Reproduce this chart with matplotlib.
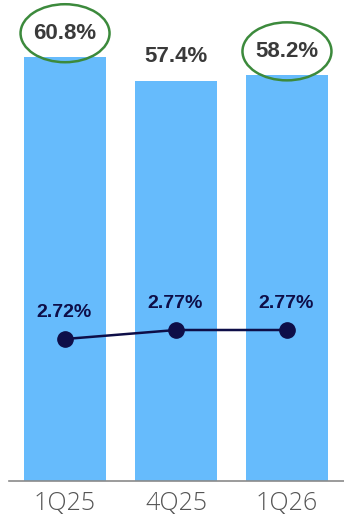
import matplotlib
matplotlib.use("Agg")
import matplotlib.pyplot as plt
from matplotlib.patches import Ellipse

# Quarterly data
quarters = ["1Q25", "4Q25", "1Q26"]
bar_values = [60.8, 57.4, 58.2]
line_values = [2.72, 2.77, 2.77]
bar_labels = ["60.8%", "57.4%", "58.2%"]
line_labels = ["2.72%", "2.77%", "2.77%"]
highlighted = [0, 2]

BAR_COLOR = "#66BBFC"
LINE_COLOR = "#0E0E48"
CIRCLE_COLOR = "#3C8A3C"
TEXT_COLOR = "#3A3A3A"

W, H = 344, 523
fig = plt.figure(figsize=(W / 100, H / 100), dpi=100)
base_px = 481  # baseline, pixels from top
ax = fig.add_axes([9 / W, (H - base_px) / H, (W - 9) / W, base_px / H])

x = list(range(len(quarters)))
ax.bar(x, bar_values, width=0.744, color=BAR_COLOR, zorder=1)
ax.set_xlim(-0.505, 2.514)
ax.set_ylim(0, base_px / 6.97)

for s in ["top", "right", "left"]:
    ax.spines[s].set_visible(False)
ax.spines["bottom"].set_color("#8A8A8A")
ax.spines["bottom"].set_linewidth(1.2)
ax.set_yticks([])
ax.set_xticks(x)
ax.set_xticklabels(quarters, fontsize=18, color="#555555",
                   family=["Open Sans", "DejaVu Sans"], fontweight="light")
ax.tick_params(axis="x", length=0, pad=7)

for i, (v, lab) in enumerate(zip(bar_values, bar_labels)):
    ax.annotate(lab, (i, v), xytext=(0, 24), textcoords="offset pixels",
                ha="center", va="center", fontsize=16, fontweight="bold",
                color=TEXT_COLOR, family=["Liberation Sans", "DejaVu Sans"])

# Highlight ellipses around selected bar labels
px_y = ax.get_ylim()[1] / base_px
px_x = (ax.get_xlim()[1] - ax.get_xlim()[0]) / (W - 9)
for i in highlighted:
    ax.add_patch(Ellipse((i, bar_values[i] + 24 * px_y), width=89 * px_x,
                         height=58 * px_y, fill=False, edgecolor=CIRCLE_COLOR,
                         linewidth=1.8, clip_on=False, zorder=3))

# Secondary axis for the rate line
ax2 = ax.twinx()
ax2.set_ylim(2.72 - (base_px - 339) / 180, 2.72 + 339 / 180)
ax2.plot(x, line_values, color=LINE_COLOR, linewidth=1.8, marker="o",
         markersize=11, zorder=4)
ax2.axis("off")
for i, (v, lab) in enumerate(zip(line_values, line_labels)):
    ax2.annotate(lab, (i, v), xytext=(-1, 27), textcoords="offset pixels",
                 ha="center", va="center", fontsize=14, fontweight="bold",
                 color=LINE_COLOR, family=["Liberation Sans", "DejaVu Sans"])

fig.savefig("out.png", dpi=100)
